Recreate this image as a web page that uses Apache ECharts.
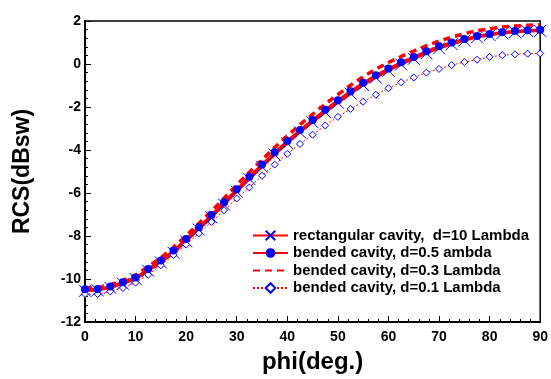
<!DOCTYPE html>
<html>
<head>
<meta charset="utf-8">
<script src="https://cdn.jsdelivr.net/npm/echarts@6/dist/echarts.min.js"></script>
<style>
html,body{margin:0;padding:0;background:#fff;}
#chart{width:551px;height:379px;}
</style>
</head>
<body>
<div id="chart"></div>
<script>
var phi = [0,2.5,5,7.5,10,12.5,15,17.5,20,22.5,25,27.5,30,32.5,35,37.5,40,42.5,45,47.5,50,52.5,55,57.5,60,62.5,65,67.5,70,72.5,75,77.5,80,82.5,85,87.5,90];
var rect10 = [-10.55,-10.53,-10.41,-10.22,-10.00,-9.62,-9.23,-8.78,-8.25,-7.70,-7.13,-6.54,-5.94,-5.35,-4.78,-4.22,-3.69,-3.18,-2.71,-2.24,-1.80,-1.38,-0.98,-0.63,-0.31,-0.02,0.24,0.50,0.73,0.92,1.09,1.24,1.34,1.43,1.48,1.52,1.54];
var bend05 = [-10.48,-10.47,-10.35,-10.15,-9.93,-9.54,-9.14,-8.68,-8.14,-7.59,-7.02,-6.43,-5.83,-5.24,-4.67,-4.11,-3.58,-3.07,-2.60,-2.13,-1.69,-1.27,-0.87,-0.52,-0.21,0.08,0.33,0.59,0.82,1.00,1.16,1.30,1.40,1.48,1.53,1.57,1.59];
var bend03 = [-10.42,-10.40,-10.27,-10.06,-9.82,-9.42,-9.01,-8.53,-7.98,-7.42,-6.84,-6.24,-5.63,-5.03,-4.45,-3.88,-3.34,-2.82,-2.34,-1.86,-1.42,-0.99,-0.59,-0.24,0.07,0.35,0.60,0.85,1.07,1.25,1.41,1.55,1.64,1.72,1.77,1.80,1.82];
var bend01 = [-10.70,-10.70,-10.58,-10.42,-10.17,-9.80,-9.36,-8.88,-8.40,-7.88,-7.35,-6.80,-6.26,-5.74,-5.20,-4.68,-4.18,-3.72,-3.29,-2.86,-2.46,-2.09,-1.75,-1.43,-1.13,-0.85,-0.63,-0.40,-0.23,-0.05,0.09,0.20,0.33,0.41,0.45,0.48,0.49];
var names = ['rectangular cavity,  d=10 Lambda','bended cavity, d=0.5 ambda','bended cavity, d=0.3 Lambda','bended cavity, d=0.1 Lambda'];

function pairs(ys){ return phi.map(function(x,i){ return [x, ys[i]]; }); }

var chart = echarts.init(document.getElementById('chart'), null, {renderer:'canvas'});
var lab = {fontFamily:'Liberation Sans, Arial, sans-serif', fontWeight:'bold', fontSize:14, color:'#000'};
chart.setOption({
  animation:false,
  backgroundColor:'#fff',
  grid:{left:85, right:10, top:21, bottom:54, show:true, borderColor:'#000', borderWidth:1.5, backgroundColor:'transparent'},
  xAxis:{
    type:'value', min:0, max:90, interval:10,
    name:'phi(deg.)', nameLocation:'middle', nameGap:28,
    nameTextStyle:{fontFamily:'Liberation Sans, Arial, sans-serif', fontWeight:'bold', fontSize:24, color:'#000'},
    axisLine:{show:true, onZero:false, lineStyle:{color:'#000', width:2}},
    axisTick:{show:true, inside:true, length:6, lineStyle:{color:'#000', width:1}},
    minorTick:{show:true, splitNumber:5, length:3, lineStyle:{color:'#000', width:1}},
    axisLabel:Object.assign({margin:8}, lab),
    splitLine:{show:false}
  },
  yAxis:{
    type:'value', min:-12, max:2, interval:2,
    name:'RCS(dBsw)', nameLocation:'middle', nameGap:51, nameRotate:90,
    nameTextStyle:{fontFamily:'Liberation Sans, Arial, sans-serif', fontWeight:'bold', fontSize:23, color:'#000'},
    axisLine:{show:true, onZero:false, lineStyle:{color:'#000', width:2}},
    axisTick:{show:true, inside:true, length:6, lineStyle:{color:'#000', width:1}},
    minorTick:{show:true, splitNumber:5, length:3, lineStyle:{color:'#000', width:1}},
    axisLabel:Object.assign({margin:4}, lab),
    splitLine:{show:false}
  },
  legend:{
    orient:'vertical', left:247, top:223, itemWidth:35, itemHeight:12, itemGap:2.5,
    textStyle:{fontFamily:'Liberation Sans, Arial, sans-serif', fontWeight:'bold', fontSize:15, color:'#000'},
    data:[names[0], names[1], {name:names[2], itemStyle:{opacity:0}}, names[3]]
  },
  series:[
    {name:names[0], type:'line', data:pairs(rect10), clip:false, z:3,
     lineStyle:{color:'#ff0000', width:2.5},
     symbol:'path://M0,0L10,10M10,0L0,10', symbolSize:12, showAllSymbol:true,
     itemStyle:{color:'rgba(0,0,0,0)', borderColor:'#0000ff', borderWidth:1}},
    {name:names[1], type:'line', data:pairs(bend05), clip:false, z:6,
     lineStyle:{color:'#ff0000', width:2.5},
     symbol:'circle', symbolSize:8, showAllSymbol:true,
     itemStyle:{color:'#0000ff', borderColor:'#0000ff', borderWidth:0}},
    {name:names[2], type:'line', data:pairs(bend03), clip:false, z:4,
     lineStyle:{color:'#ff0000', width:3.5, type:[7,5]},
     symbol:'none', itemStyle:{color:'#ff0000'}},
    {name:names[3], type:'line', data:pairs(bend01), clip:false, z:5,
     lineStyle:{color:'#ff0000', width:1, type:[2,2]},
     symbol:'diamond', symbolSize:7, showAllSymbol:true,
     itemStyle:{color:'#ffffff', borderColor:'#0000ff', borderWidth:1}}
  ]
});
</script>
</body>
</html>
